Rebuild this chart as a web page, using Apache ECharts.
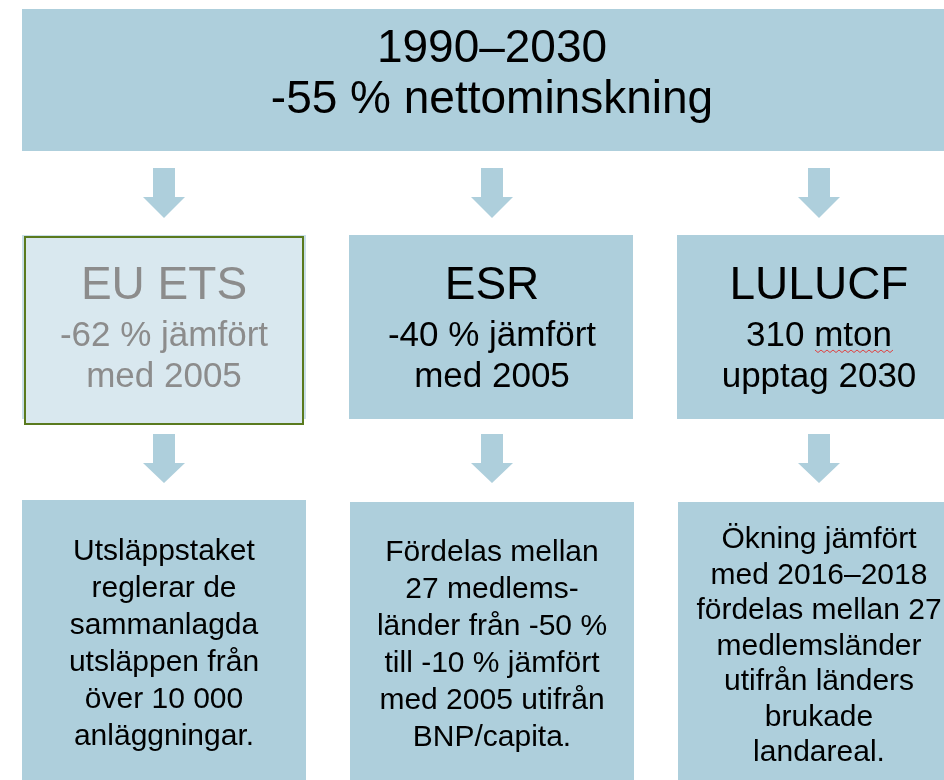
<!DOCTYPE html>
<html>
<head>
<meta charset="utf-8">
<script src="https://cdn.jsdelivr.net/npm/echarts@6/dist/echarts.min.js"></script>
<style>
  html, body { margin: 0; padding: 0; background: #fff; }
  #container { width: 944px; height: 780px; }
</style>
</head>
<body>
<div id="container"></div>
<script>
// texts of the diagram
var headLines = ['1990–2030', '-55 % nettominskning'];
var pillarTitles = ['EU ETS', 'ESR', 'LULUCF'];
var pillarSubs = [
  ['-62 % jämfört', 'med 2005'],
  ['-40 % jämfört', 'med 2005'],
  ['310 mton', 'upptag 2030']
];
var detailTexts = [
  ['Utsläppstaket', 'reglerar de', 'sammanlagda', 'utsläppen från', 'över 10 000', 'anläggningar.'],
  ['Fördelas mellan', '27 medlems-', 'länder från -50 %', 'till -10 % jämfört', 'med 2005 utifrån', 'BNP/capita.'],
  ['Ökning jämfört', 'med 2016–2018', 'fördelas mellan 27', 'medlemsländer', 'utifrån länders', 'brukade', 'landareal.']
];

// layout
var BLUE = '#aecfdc';
var FONT = '"Liberation Sans", Arial, sans-serif';
var colX = [22, 349, 677];
var colW = 284;
var colCx = [164, 492, 819];
var detailTop = [552, 553, 540];
var detailStep = [37, 37, 35.5];

function arrow(cx, top, headTop, tip){
  return {
    type: 'polygon',
    shape: { points: [
      [cx - 11, top], [cx + 11, top], [cx + 11, headTop], [cx + 21, headTop],
      [cx, tip], [cx - 21, headTop], [cx - 11, headTop]
    ]},
    style: { fill: BLUE }
  };
}

function label(txt, x, y, size, color){
  return {
    type: 'text',
    x: x, y: y,
    style: {
      text: txt, fill: color || '#000',
      font: size + 'px ' + FONT,
      align: 'center', verticalAlign: 'middle'
    }
  };
}

var els = [];

// top box
els.push({ type: 'rect', shape: { x: 22, y: 9, width: 960, height: 142 }, style: { fill: BLUE } });
els.push(label(headLines[0], 492, 49.5, 46));
els.push(label(headLines[1], 492, 100.5, 46));

for (var i = 0; i < 3; i++) {
  var cx = colCx[i];
  els.push(arrow(cx, 168, 197, 218));

  if (i === 0) {
    els.push({ type: 'rect', shape: { x: colX[i], y: 235, width: colW, height: 184 }, style: { fill: '#c9dfe8' } });
    els.push({ type: 'rect', shape: { x: 25, y: 237, width: 278, height: 187 },
      style: { fill: '#d9e8ef', stroke: '#5a7a1e', lineWidth: 2 } });
  } else {
    els.push({ type: 'rect', shape: { x: colX[i], y: 235, width: colW, height: 184 }, style: { fill: BLUE } });
  }
  var col = i === 0 ? '#8c8c8c' : '#000';
  els.push(label(pillarTitles[i], cx, 286, 46, col));
  els.push(label(pillarSubs[i][0], cx, 336, 35, col));
  els.push(label(pillarSubs[i][1], cx, 377.5, 35, col));

  els.push(arrow(cx, 434, 463, 483));

  els.push({ type: 'rect', shape: { x: colX[i] + (i ? 1 : 0), y: i ? 502 : 500, width: colW, height: 300 }, style: { fill: BLUE } });
  for (var j = 0; j < detailTexts[i].length; j++) {
    els.push(label(detailTexts[i][j], cx, detailTop[i] + j * detailStep[i], 30));
  }
}

// spell-check squiggle under "mton"
var wave = [];
for (var k = 0; k <= 26; k++) {
  wave.push([815 + k * 3, 351 + (k % 2 ? 1.5 : -1)]);
}
els.push({ type: 'polyline', shape: { points: wave }, style: { stroke: '#e04040', lineWidth: 1, fill: null } });

var chart = echarts.init(document.getElementById('container'), null, { renderer: 'canvas' });
chart.setOption({
  backgroundColor: '#fff',
  animation: false,
  graphic: { elements: els }
});
</script>
</body>
</html>
